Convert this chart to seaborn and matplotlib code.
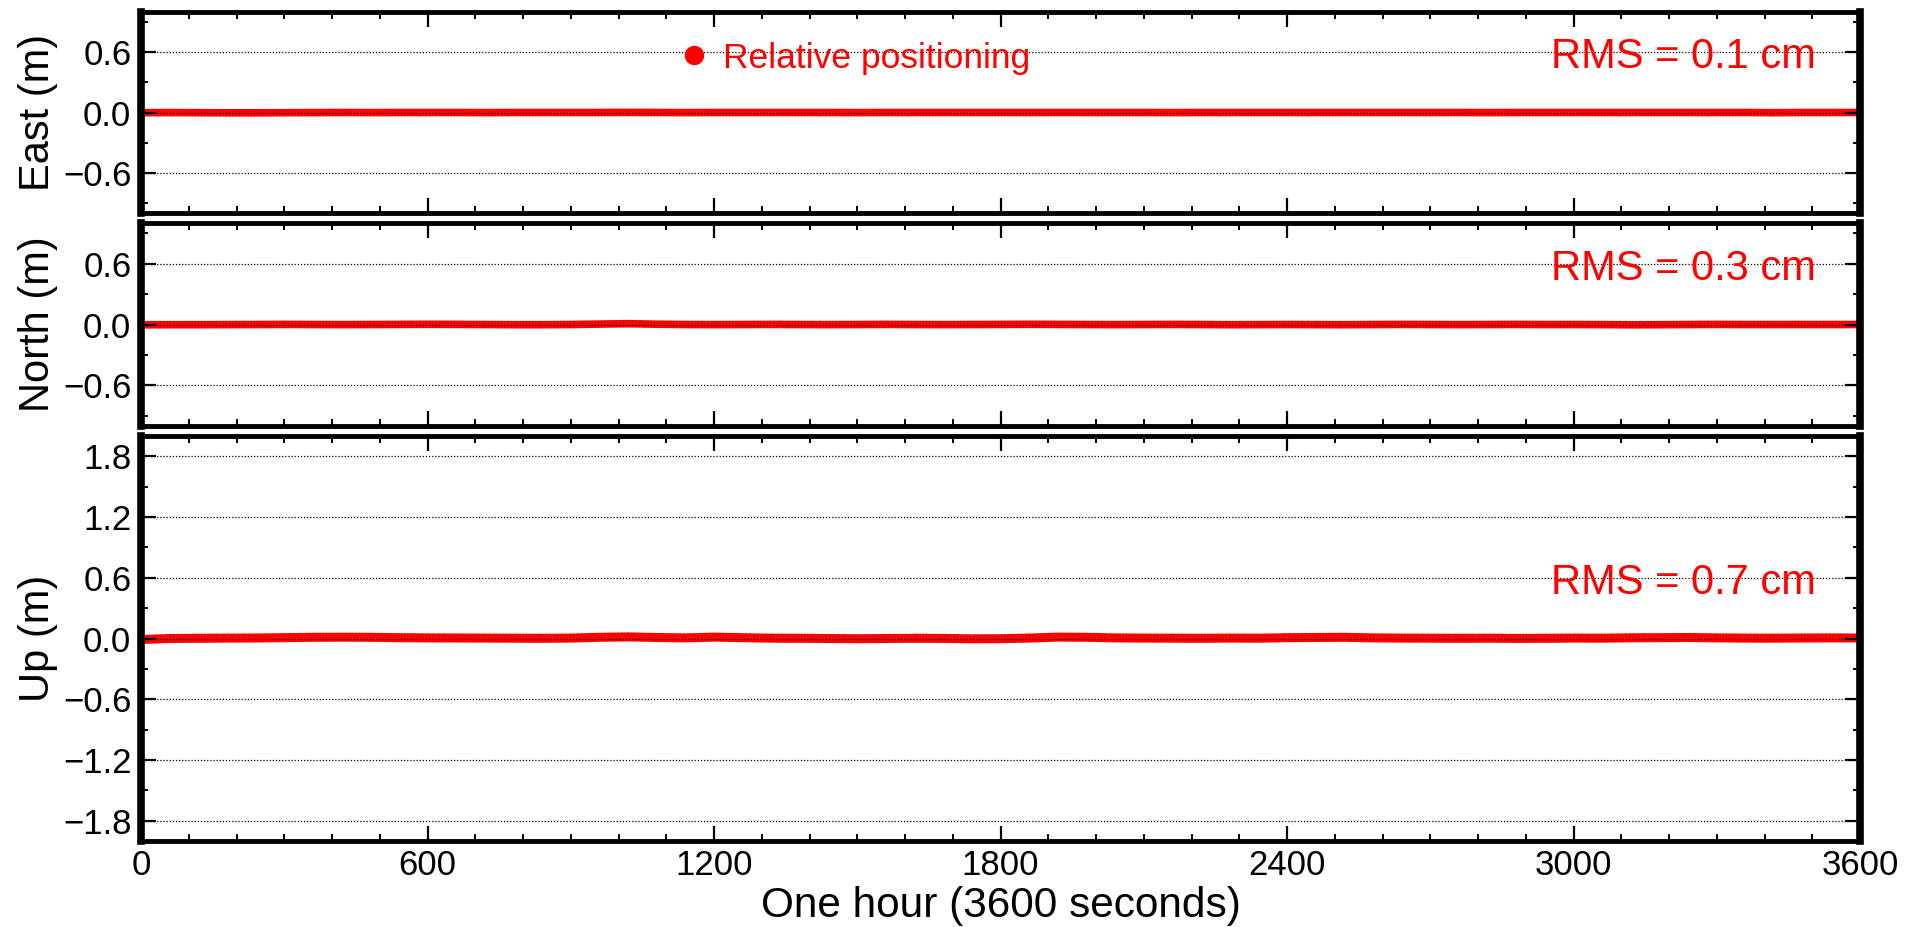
import numpy as np
import pandas as pd
import matplotlib
matplotlib.use("Agg")
import matplotlib.pyplot as plt
from matplotlib.lines import Line2D
from matplotlib.ticker import MultipleLocator, FuncFormatter
import seaborn as sns

# ---------------- data (metres, every 60 s) ----------------
time_s = list(range(0, 3601, 60))
east = [-0.002, -0.001, -0.002, -0.003, -0.003, -0.002, -0.001, 0.000, -0.001, 0.000,
        0.000, 0.000, -0.001, 0.000, 0.000, 0.000, 0.000, 0.001, 0.000, -0.001,
        0.000, 0.000, 0.000, 0.000, 0.000, -0.001, 0.000, 0.000, 0.000, 0.000,
        0.000, 0.000, 0.000, 0.000, 0.000, 0.000, -0.001, 0.000, 0.000, 0.000,
        0.000, 0.000, 0.000, 0.000, 0.000, 0.000, 0.000, -0.001, 0.000, 0.000,
        0.000, 0.000, 0.000, 0.000, 0.000, 0.000, 0.000, -0.002, 0.000, 0.000, 0.000]
north = [-0.003, -0.002, -0.002, -0.001, 0.000, 0.001, 0.000, -0.001, 0.000, 0.001,
         0.002, 0.001, 0.000, -0.002, -0.002, 0.000, 0.004, 0.008, 0.003, 0.000,
         -0.001, 0.000, 0.001, 0.000, -0.001, 0.000, 0.001, 0.000, -0.001, 0.000,
         0.001, 0.002, 0.001, 0.000, -0.001, 0.000, 0.001, 0.000, -0.002, -0.001,
         0.000, -0.001, -0.002, 0.000, 0.001, 0.000, -0.001, 0.000, 0.001, 0.000,
         0.000, -0.001, -0.003, -0.002, 0.000, 0.001, 0.000, 0.000, 0.000, 0.000, 0.000]
up = [-0.010, 0.000, 0.002, 0.004, 0.005, 0.008, 0.012, 0.013, 0.012, 0.008,
      0.006, 0.005, 0.004, 0.003, 0.002, 0.004, 0.012, 0.016, 0.010, 0.006,
      0.014, 0.008, 0.003, 0.002, 0.000, -0.002, 0.000, 0.002, 0.001, -0.003,
      -0.002, 0.004, 0.014, 0.012, 0.006, 0.004, 0.003, 0.002, 0.004, 0.003,
      0.008, 0.010, 0.012, 0.006, 0.004, 0.003, 0.002, 0.003, 0.001, 0.002,
      0.004, 0.003, 0.007, 0.008, 0.010, 0.006, 0.004, 0.003, 0.005, 0.006, 0.005]

components = ["East (m)", "North (m)", "Up (m)"]
rms_labels = ["RMS = 0.1 cm", "RMS = 0.3 cm", "RMS = 0.7 cm"]
ylims = [(-1.0, 1.0), (-1.0, 1.0), (-2.0, 2.0)]
legend_label = "Relative positioning"
xlabel = "One hour (3600 seconds)"
xticks = [0, 600, 1200, 1800, 2400, 3000, 3600]

# ---------------- style ----------------
sns.set_theme(style="ticks")
plt.rcParams["font.family"] = ["Liberation Sans", "DejaVu Sans"]
plt.rcParams["axes.unicode_minus"] = True
for k in ["text.color", "axes.labelcolor", "xtick.color", "ytick.color",
          "xtick.labelcolor", "ytick.labelcolor", "axes.edgecolor"]:
    plt.rcParams[k] = "black"

RED = "#ff0000"
W, H = 1919, 927
fig = plt.figure(figsize=(W / 100, H / 100), dpi=100)

left, right = 141, 1860
rows = [(12, 213), (223, 426), (436, 841)]
series = [east, north, up]
widths = [5.5, 5.5, 6.5]

axes = []
for i, ((top, bot), vals) in enumerate(zip(rows, series)):
    ax = fig.add_axes([left / W, 1 - bot / H, (right - left) / W, (bot - top) / H])
    axes.append(ax)
    df = pd.DataFrame({"t": time_s, "v": vals})
    sns.lineplot(data=df, x="t", y="v", ax=ax, color=RED, linewidth=widths[i],
                 solid_capstyle="round", zorder=2)
    ax.set_xlim(0, 3600)
    ax.set_ylim(*ylims[i])
    ax.xaxis.set_major_locator(MultipleLocator(600))
    ax.xaxis.set_minor_locator(MultipleLocator(100))
    ax.yaxis.set_major_locator(MultipleLocator(0.6))
    ax.yaxis.set_minor_locator(MultipleLocator(0.3))
    ax.set_axisbelow(False)
    ax.grid(axis="y", which="major", linestyle=(0, (1, 1.5)), color="black",
            linewidth=0.9, zorder=3)
    ax.grid(axis="x", visible=False)
    ax.tick_params(axis="both", which="both", direction="in", top=True, right=True,
                   color="black", labelcolor="black", labelsize=25)
    ax.tick_params(axis="x", which="major", length=11, width=1.6, pad=6)
    ax.tick_params(axis="x", which="minor", length=5, width=1.4)
    ax.tick_params(axis="y", which="major", length=11, width=1.6, pad=7)
    ax.tick_params(axis="y", which="minor", length=5, width=1.4)
    ax.yaxis.set_major_formatter(FuncFormatter(
        lambda v, p: f"{v:.1f}".replace("-", "\u2212")))
    for s in ["left", "right"]:
        ax.spines[s].set_linewidth(5.5)
        ax.spines[s].set_color("black")
    for s in ["top", "bottom"]:
        ax.spines[s].set_linewidth(3.5)
        ax.spines[s].set_color("black")
    ax.set_ylabel(components[i], fontsize=30, va="center", color="black")
    ax.yaxis.set_label_coords(-0.060, 0.5)
    ax.text(3508, 0.44, rms_labels[i], color=RED, fontsize=30, ha="right",
            va="baseline", zorder=5)
    if i < 2:
        ax.set_xlabel("")
        ax.tick_params(axis="x", labelbottom=False)
    else:
        ax.set_xticks(xticks)
        ax.set_xticklabels([str(x) for x in xticks])
        ax.set_xlabel(xlabel, fontsize=30.5, va="baseline", color="black")
        ax.xaxis.set_label_coords(0.5, -0.1877)

handle = Line2D([], [], linestyle="none", marker="o", markersize=13,
                markerfacecolor=RED, markeredgecolor=RED)
leg = axes[0].legend([handle], [legend_label], loc="center left",
                     bbox_to_anchor=(0.3115, 0.77), frameon=False,
                     handlelength=1.0, handletextpad=0.3, borderpad=0,
                     borderaxespad=0, fontsize=25.5)
for t in leg.get_texts():
    t.set_color(RED)

fig.savefig("out.png", dpi=100)
